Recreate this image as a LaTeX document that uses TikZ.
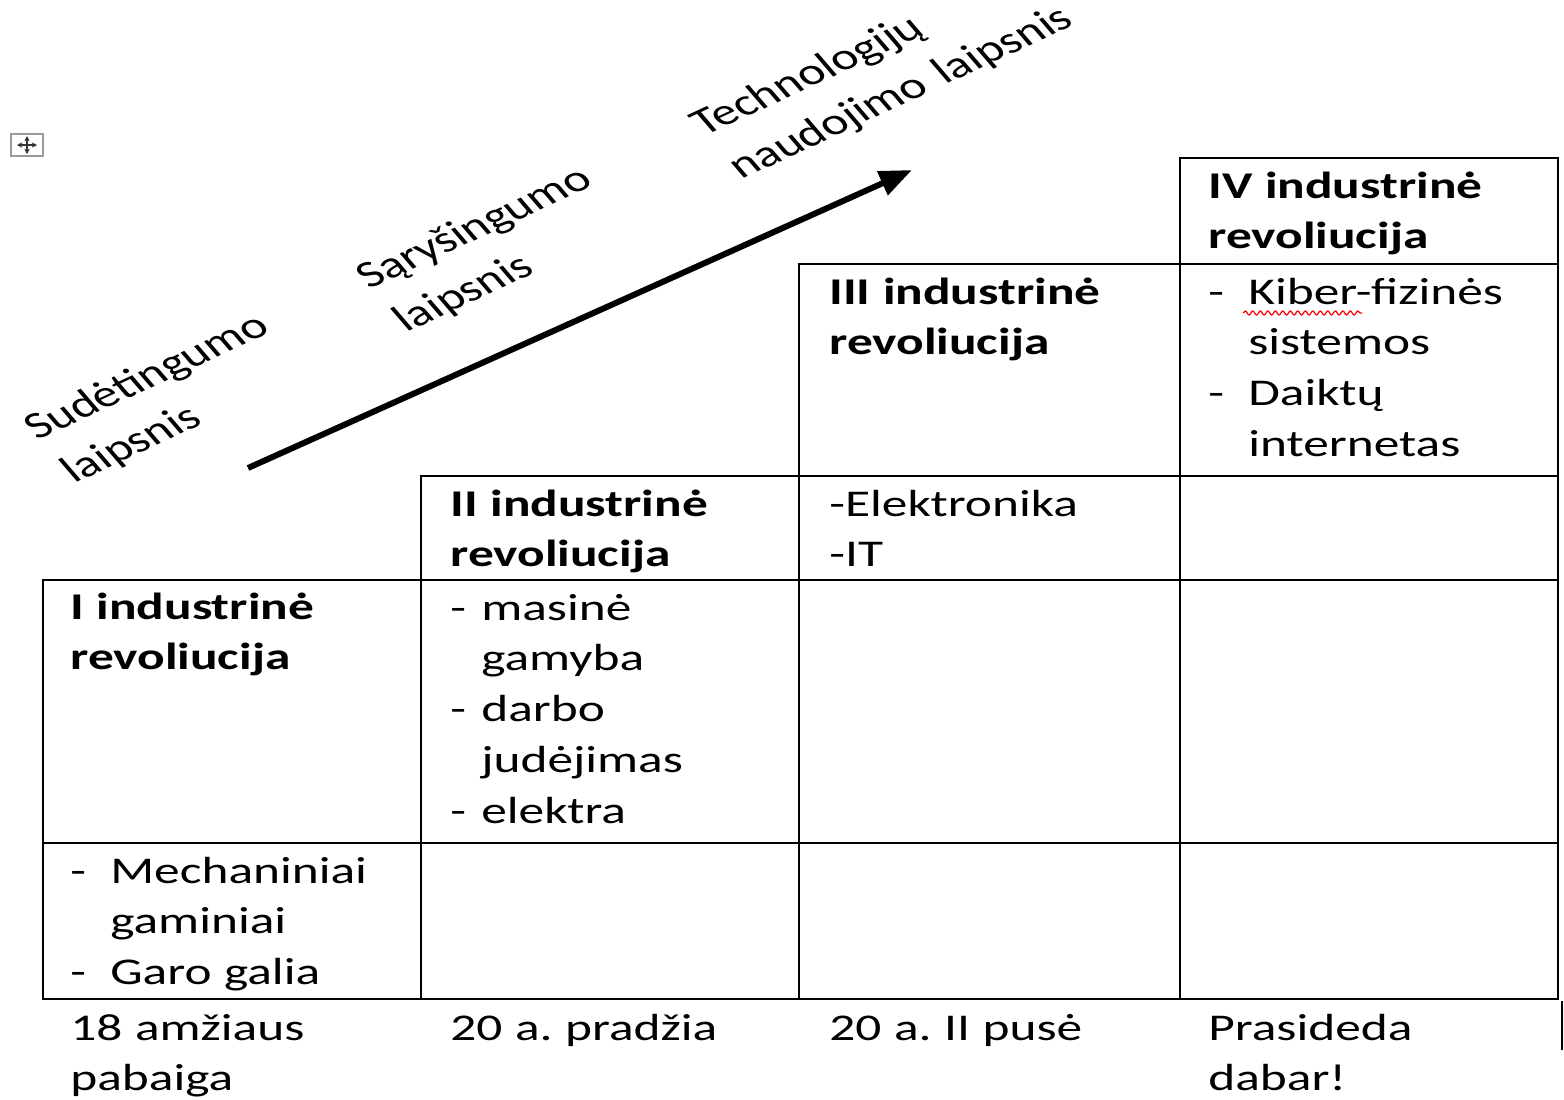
\documentclass[tikz,border=0pt]{standalone}
\usepackage{fontspec}
\setmainfont{Carlito}[FakeStretch=1.36]
\newfontfamily\rotfont{Carlito}
\usetikzlibrary{positioning, arrows.meta, decorations.pathmorphing}

\newcommand\dashitem[2]{\makebox[#1][l]{-}#2}

\tikzset{
  tablerule/.style={draw=black, line width=1.1pt},
  celltext/.style={anchor=base west, inner sep=0pt, align=left, text width=#1},
  celltext/.default=7cm,
  rotlabel/.style={rotate=32.3, transform shape, anchor=base west, inner sep=0pt,
    align=left, text width=#1, font=\rotfont\fontsize{21.5pt}{29pt}\selectfont},
  rotlabel/.default=4.4cm,
}

\begin{document}
\frenchspacing
\begin{tikzpicture}[x=0.02cm, y=-0.02cm, font=\fontsize{21.5pt}{29pt}\selectfont]
\useasboundingbox (0,0) rectangle (1564,1099);

% table cells, one column at a time
\foreach \xa/\xb/\ytop in {43/421/580, 421/799/476, 799/1180/264, 1180/1558/158}
  \draw[tablerule] (\xa,\ytop) rectangle (\xb,999);
\foreach \y/\xa in {264/1180, 476/799, 580/421, 843/43}
  \draw[tablerule] (\xa,\y) -- (1558,\y);
\draw[tablerule] (1562,1001) -- (1562,1050);

% table move handle
\draw[gray!80, line width=0.6pt] (11,134) rectangle (43,156);
\draw[gray!40!black, line width=0.6pt, {Stealth[length=3pt, width=3pt]}-{Stealth[length=3pt, width=3pt]}] (17,145) -- (37,145);
\draw[gray!40!black, line width=0.6pt, {Stealth[length=3pt, width=3pt]}-{Stealth[length=3pt, width=3pt]}] (27,136) -- (27,154);

% headers
\node[celltext] (hdI) at (70,619) {\textbf{I industrinė\\revoliucija}};
\node[celltext] (hdII) at (450,516) {\textbf{II industrinė\\revoliucija}};
\node[celltext] (hdIII) at (829,304) {\textbf{III industrinė\\revoliucija}};
\node[celltext] (hdIV) at (1208,198) {\textbf{IV industrinė\\revoliucija}};

% contents
\node[celltext] (txtI) at (70,883) {\dashitem{0.8cm}{Mechaniniai}\\\hspace*{0.8cm}gaminiai\\\dashitem{0.8cm}{Garo galia}};
\node[celltext] (txtII) at (450,620) {\dashitem{0.62cm}{masinė}\\\hspace*{0.62cm}gamyba\\\dashitem{0.62cm}{darbo}\\\hspace*{0.62cm}judėjimas\\\dashitem{0.62cm}{elektra}};
\node[celltext] (txtIII) at (829,516) {-Elektronika\\-IT};
\node[celltext] (txtIV) at (1208,304) {\dashitem{0.8cm}{Kiber-fizinės}\\\hspace*{0.8cm}sistemos\\\dashitem{0.8cm}{Daiktų}\\\hspace*{0.8cm}internetas};
\draw[red, line width=0.7pt, decorate, decoration={snake, amplitude=0.04cm, segment length=0.15cm}] (1243,313) -- (1362,313);

% periods
\node[celltext] (whenI) at (70,1040) {18 amžiaus\\pabaiga};
\node[celltext] (whenII) at (450,1040) {20 a. pradžia};
\node[celltext] (whenIII) at (829,1040) {20 a. II pusė};
\node[celltext] (whenIV) at (1208,1040) {Prasideda\\dabar!};

% slanted labels and arrow
\coordinate (labA) at (37,441);
\coordinate (labB) at (369,290);
\coordinate (labC) at (704,137);
\begin{scope}[xscale=1.36]
  \node[rotlabel] (sud) at (labA) {Sudėtingumo\\laipsnis};
  \node[rotlabel] (sar) at (labB) {Sąryšingumo\\laipsnis};
  \node[rotlabel=6.2cm] (tech) at (labC) {Technologijų\\naudojimo laipsnis};
\end{scope}
\coordinate (arrlo) at (248,468);
\coordinate (arrhi) at (912,170);
\draw[line width=3.4pt, -{Triangle[length=0.65cm, width=0.5cm]}] (arrlo) -- (arrhi);
\end{tikzpicture}
\end{document}
